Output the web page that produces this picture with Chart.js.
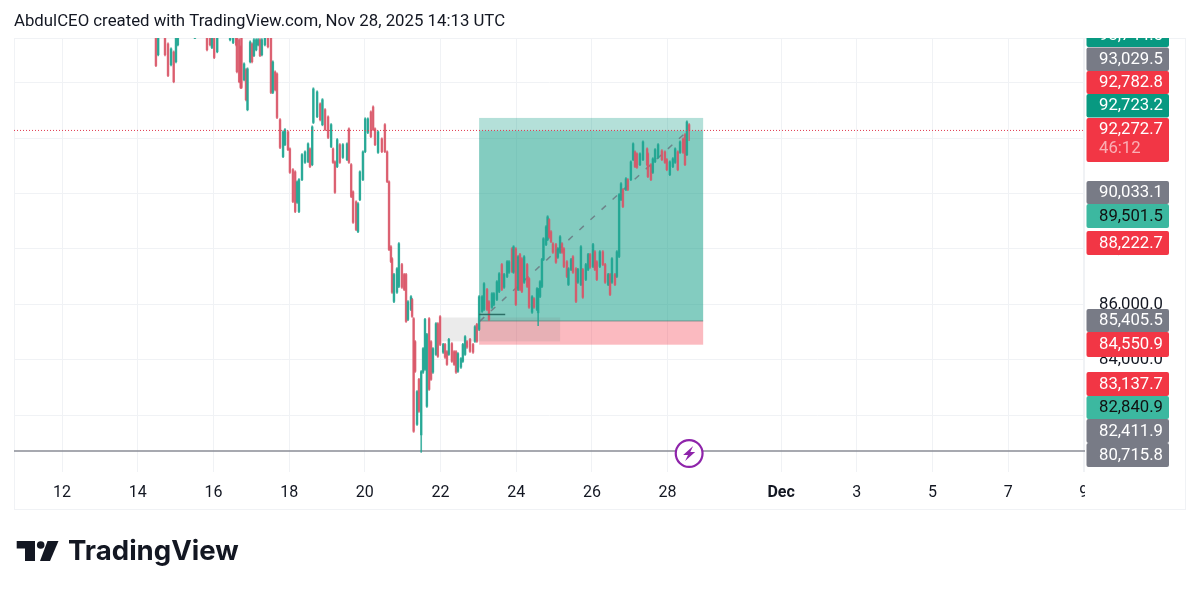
<!DOCTYPE html>
<html><head><meta charset="utf-8">
<script src="https://cdn.jsdelivr.net/npm/chart.js@4"></script>
<style>html,body{margin:0;padding:0;background:#fff}canvas{display:block}</style>
</head><body><canvas id="c" width="1200" height="594"></canvas>
<script>
const days=[14.48,14.54,14.72,14.80,14.88,14.95,15.01,15.06,15.51,15.83,
15.91,15.96,16.02,16.10,16.44,16.52,16.60,16.62,16.68,16.72,
16.74,16.81,16.86,16.90,16.97,17.02,17.07,17.13,17.18,17.23,
17.28,17.36,17.44,17.52,17.57,17.63,17.68,17.76,17.84,17.89,
17.97,18.02,18.10,18.16,18.21,18.26,18.34,18.42,18.50,18.55,
18.61,18.64,18.74,18.82,18.88,18.95,19.03,19.11,19.16,19.21,
19.27,19.34,19.42,19.53,19.58,19.64,19.69,19.77,19.82,19.87,
19.95,20.01,20.08,20.16,20.22,20.27,20.35,20.45,20.53,20.59,
20.64,20.69,20.72,20.77,20.85,20.90,20.98,21.04,21.09,21.14,
21.22,21.25,21.29,21.33,21.38,21.43,21.49,21.54,21.59,21.64,
21.70,21.75,21.80,21.88,21.93,21.99,22.07,22.12,22.17,22.22,
22.30,22.36,22.41,22.46,22.54,22.59,22.65,22.70,22.78,22.86,
22.91,22.96,23.02,23.10,23.15,23.23,23.28,23.36,23.41,23.49,
23.55,23.62,23.68,23.76,23.81,23.89,23.93,23.99,24.05,24.10,
24.15,24.21,24.29,24.34,24.42,24.47,24.55,24.58,24.63,24.68,
24.72,24.79,24.83,24.87,24.92,24.97,25.05,25.10,25.16,25.21,
25.26,25.34,25.38,25.45,25.50,25.58,25.63,25.71,25.76,25.84,
25.90,25.95,26.03,26.08,26.13,26.21,26.29,26.35,26.43,26.48,
26.53,26.61,26.66,26.72,26.77,26.82,26.90,26.95,27.03,27.09,
27.14,27.19,27.27,27.35,27.46,27.48,27.56,27.61,27.67,27.75,
27.85,27.93,27.98,28.06,28.14,28.20,28.27,28.33,28.41,28.46,28.51,28.57];
const highs=[95860,95860,95860,95430,95250,95140,95650,95760,95650,95860,
95860,95860,95860,95860,95860,95860,95860,95790,95580,95320,
95860,94710,94500,94530,95500,95430,95580,95580,95580,95580,
95580,95650,95760,95760,94780,94420,94350,92700,92260,92340,
92260,91650,90900,90820,90460,90540,91440,91540,91830,91650,
92440,93810,93700,93270,93420,93060,92800,92520,91650,91180,
91980,91800,91800,91830,92370,91080,90100,89740,89670,90820,
91540,92730,92730,92980,93160,92370,92260,92010,92520,91540,
90460,88120,87690,87120,87330,88230,87480,87120,87120,86140,
86320,86220,85530,84700,82900,83340,83620,84450,85500,84960,
85530,84700,84450,85350,85350,85600,84600,84600,84340,84780,
84630,84340,84340,84270,84090,84600,84880,84700,84780,84600,
85240,85320,86320,86320,86790,86580,86140,86430,86430,86860,
87150,87480,87120,87580,87580,88050,88120,88050,87760,87840,
87690,87760,87480,86970,86320,86250,86610,86580,86860,87660,
88410,88840,89200,89100,88660,88230,88200,88050,88480,88230,
88050,87580,87330,87660,87760,87330,87300,88120,87300,87480,
87840,87840,88200,87940,87580,87940,87940,87480,87120,87120,
87690,87120,87940,90000,90390,90180,90570,90540,91180,91830,
91540,91470,91470,91900,91650,91470,91080,91290,91620,91800,
91580,91540,91260,91180,91290,91650,91540,91900,92010,92160,92620,92520];
const lows=[94570,94960,94960,94210,94600,93990,94710,95320,95580,95140,
95320,95220,94860,95070,95500,95400,95320,94350,93990,93780,
93780,94060,93340,92980,94710,94710,94930,95140,95320,94930,
94960,95320,95250,93600,93600,93700,92700,91620,91290,91720,
91540,90720,89670,89310,89640,89310,90460,91080,91110,90930,
91000,92520,92730,92620,92440,92260,91980,91650,91080,90000,
90930,91080,91260,91180,91080,89850,88920,88660,88590,89740,
90460,91470,92160,92010,92260,91720,91440,91470,91470,90390,
87940,87510,86400,86070,86400,86610,86580,86500,85350,85420,
85780,85530,81390,83550,81640,82110,80670,83520,83620,82290,
82900,83260,83520,84160,84090,84520,84240,84060,83800,84160,
83910,83800,83520,83550,83700,83910,84160,84420,84270,84240,
84630,84630,85060,85710,85780,85780,85420,85860,85960,86140,
86430,86500,86580,86970,87120,87150,87120,85960,86500,86500,
86430,86760,86610,85860,85680,85860,85780,85240,86250,86610,
87580,88120,88300,88380,88230,87840,87480,87660,87840,87840,
87330,86970,86680,87220,87120,86070,86760,86680,86220,86860,
87220,87300,87330,87220,86860,87330,87400,86760,86680,86320,
86760,86680,86970,87690,89740,89490,90100,90100,90460,91180,
90930,90900,91000,91180,91000,90570,90460,90720,91110,91260,
91180,91080,90820,90640,90930,91080,90820,91440,91440,91000,91360,91900];
const opens=[95820,95000,95820,95390,94640,95100,94750,95360,95590,95820,
95820,95260,95820,95110,95540,95440,95820,95750,95540,95280,
95820,94100,94460,93020,94750,95390,94970,95180,95360,95540,
95000,95360,95720,95720,93640,94380,94310,92660,91330,91760,
92220,91610,90860,90780,89680,89350,90500,91120,91150,91610,
91040,92560,92770,93230,92480,93020,92760,91690,91610,91140,
90970,91760,91300,91220,92330,91040,90060,89700,88630,89780,
90500,91510,92200,92940,93120,92330,91480,91970,92480,91500,
90420,88080,87650,86110,86440,86650,87440,87080,87080,85460,
85820,86180,85490,84660,81680,83300,81300,83560,83660,82330,
85490,84660,83560,84200,85310,85560,84280,84560,84300,84200,
84590,84300,84300,83590,83740,83950,84200,84660,84740,84560,
84670,85280,85100,85750,85820,86540,86100,85900,86000,86180,
86470,87440,86620,87010,87160,88010,87160,88010,86540,87800,
87650,86800,87440,86930,85720,86210,85820,85700,86290,86650,
87620,88160,88340,89060,88620,88190,88160,87700,87880,88190,
88010,87540,86720,87260,87720,87290,86800,86720,87260,86900,
87260,87800,87370,87900,87540,87370,87900,87440,86720,87080,
86800,87080,87010,87730,89780,90140,90140,90500,90500,91220,
91500,91430,91040,91220,91610,91430,91040,90760,91150,91300,
91540,91500,91220,90680,90970,91120,91500,91480,91970,92120,91400,92480];
const closes=[94610,95820,95000,94250,95210,94030,95610,95720,95640,95180,
95360,95820,94900,95820,95820,95820,95360,94390,94030,93820,
93820,94670,93380,94490,95460,94750,95540,95540,95540,94970,
95540,95610,95290,93640,94740,93740,92740,91660,92220,92300,
91580,90760,89710,89350,90420,90500,91400,91500,91790,90970,
92400,93770,93660,92660,93380,92300,92020,92480,91120,90040,
91940,91120,91760,91790,91120,89890,88960,88700,89630,90780,
91500,92690,92690,92050,92300,91760,92220,91510,91510,90430,
87980,87550,86440,87080,87290,88190,86620,86540,85390,86100,
86280,85570,81430,83590,82860,82150,83580,84410,85460,84920,
82940,83300,84410,85310,84130,84560,84560,84100,83840,84740,
83950,83840,83560,84230,84050,84560,84840,84460,84310,84280,
85200,84670,86280,86280,86750,85820,85460,86390,86390,86820,
87110,86540,87080,87540,87540,87190,88080,86000,87720,86540,
86470,87720,86650,85900,86280,85900,86570,86540,86820,87620,
88370,88800,89160,88420,88270,87880,87520,88010,88440,87880,
87370,87010,87290,87620,87160,86110,87260,88080,86260,87440,
87800,87340,88160,87260,86900,87900,87440,86800,87080,86360,
87650,86720,87900,89960,90350,89530,90530,90140,91140,91790,
90970,90940,91430,91860,91040,90610,90500,91250,91580,91760,
91220,91120,90860,91140,91250,91610,90860,91860,91480,91040,92580,92272.7];

const xTickDays=[12,14,16,18,20,22,24,26,28,31,33,35,37,39];
const xTickLabels=["12","14","16","18","20","22","24","26","28","Dec","3","5","7","9"];
const yTickValues=[82000,84000,86000,88000,90000,92000,94000];
const levelPrice=[80715.8,80715.8];
const lastPrice=[92272.7,92272.7];
const spanDays=[10.73,39.03];
const tradePathDays=[23.04,28.54];
const tradePathPrices=[85400,92272.7];
const markerDays=[23.02,23.71];
const markerPrices=[85640,85640];
const entryLineDays=[23.02,28.94];
const entryLinePrices=[85405.5,85405.5];
const longBoxDays=[23.02,28.94];
const targetPrice=92723.2, entryPrice=85405.5, stopPrice=84550.9, currentPrice=92272.7;
const rangeBoxDays=[22.03,25.16];
const rangeBoxPrices=[85530,84670];
const flashDay=28.57, flashPrice=80630;
const headerText="AbdulCEO created with TradingView.com, Nov 28, 2025 14:13 UTC";
const brandText="TradingView";
const tagTexts=["93,744.5","93,029.5","92,782.8","92,723.2","92,272.7","90,033.1","89,501.5","88,222.7","85,405.5","84,550.9","83,137.7","82,840.9","82,411.9","80,715.8"];
const countdown="46:12";

const UP='rgba(30,165,145,0.82)', DOWN='rgba(216,84,102,0.78)';
const GRID='#f0f2f5';
const FONT='Roboto, sans-serif';
const candleColors=closes.map((c,i)=>c>=opens[i]?UP:DOWN);

// tag layout: top, bottom, fill, text colour
const GREY='#787b86',RED='#f23645',GREEN='#089981',TEAL='#3cb8a0',W='#ffffff',K='#111111';
const tagLayout=[[24,47,GREEN,W],[47.5,71,GREY,W],[71,94,RED,W],[94,117.5,GREEN,W],[118,162,RED,W],
[181,204,GREY,W],[204,228,TEAL,K],[231,255,RED,W],[309,332,GREY,W],[332,357,RED,W],
[372,396,RED,W],[396,419,TEAL,K],[419,443,GREY,W],[443,467,GREY,W]];

const decor={id:'decor',
beforeDraw(ch){const g=ch.ctx;g.save();g.fillStyle='#fff';g.fillRect(0,0,1200,594);
  g.strokeStyle='#f0f2f5';g.lineWidth=1;g.strokeRect(14.5,38.5,1171,471);
  g.beginPath();g.moveTo(1084.5,38);g.lineTo(1084.5,472);g.stroke();
  g.restore();},
beforeDatasetsDraw(ch){const g=ch.ctx,x=ch.scales.x,y=ch.scales.y;g.save();
  const a=ch.chartArea;g.beginPath();g.rect(a.left,a.top,a.right-a.left,a.bottom-a.top);g.clip();
  const L=x.getPixelForValue(longBoxDays[0]),R=x.getPixelForValue(longBoxDays[1]);
  const yT=y.getPixelForValue(targetPrice),yE=y.getPixelForValue(entryPrice),yS=y.getPixelForValue(stopPrice),yC=y.getPixelForValue(currentPrice);
  g.fillStyle='rgba(8,153,129,0.30)';g.fillRect(L,yT,R-L,yC-yT);
  g.fillStyle='rgba(8,153,129,0.50)';g.fillRect(L,yC,R-L,yE-yC);
  g.fillStyle='rgba(242,54,69,0.34)';g.fillRect(L,yE,R-L,yS-yE);
  const gl=x.getPixelForValue(rangeBoxDays[0]),gr=x.getPixelForValue(rangeBoxDays[1]);
  const gt=y.getPixelForValue(rangeBoxPrices[0]),gb=y.getPixelForValue(rangeBoxPrices[1]);
  g.fillStyle='rgba(120,120,120,0.15)';g.fillRect(gl,gt,gr-gl,gb-gt);
  g.restore();},
afterDraw(ch){const g=ch.ctx,x=ch.scales.x,y=ch.scales.y;g.save();
  // clipped "9" at axis edge
  g.fillStyle='#fff';g.fillRect(1085,476,12,32);
  // flash marker
  const fx=x.getPixelForValue(flashDay),fy=y.getPixelForValue(flashPrice);
  g.beginPath();g.arc(fx,fy,13.4,0,Math.PI*2);g.fillStyle='#fff';g.fill();g.lineWidth=2.2;g.strokeStyle='#8e24aa';g.stroke();
  g.beginPath();g.moveTo(fx+4,fy-7.5);g.lineTo(fx-6,fy+1.6);g.lineTo(fx-1.2,fy+1.6);g.lineTo(fx-4,fy+7.5);g.lineTo(fx+6,fy-1.6);g.lineTo(fx+1.2,fy-1.6);g.closePath();g.fillStyle='#8e24aa';g.fill();
  // price tags
  g.save();g.beginPath();g.rect(1085,38,110,450);g.clip();
  g.textBaseline='middle';g.textAlign='left';g.font='16.7px '+FONT;
  tagTexts.forEach((t,i)=>{const [a,b,f,c]=tagLayout[i];
    g.fillStyle=f;g.beginPath();g.roundRect(1086.5,a,82.5,b-a,2);g.fill();
    g.fillStyle=c;
    if(i===4){g.fillText(t,1099,129.5);g.fillStyle='rgba(255,255,255,0.6)';g.fillText(countdown,1099,149);}
    else g.fillText(t,1099,(a+b)/2+0.5);
  });
  g.restore();
  // header
  g.fillStyle='#131722';g.textAlign='left';g.textBaseline='middle';g.font='16.8px '+FONT;
  g.fillText(headerText,14,22);
  // brand
  g.fillStyle='#131722';
  g.beginPath();g.moveTo(16.7,541);g.lineTo(35,541);g.lineTo(35,561);g.lineTo(25,561);g.lineTo(25,548.5);g.lineTo(16.7,548.5);g.closePath();g.fill();
  g.beginPath();g.arc(40.7,545,3.8,0,Math.PI*2);g.fill();
  g.beginPath();g.moveTo(47.5,541);g.lineTo(58.5,541);g.lineTo(50,561);g.lineTo(40,561);g.closePath();g.fill();
  g.font='700 27.6px Inter, sans-serif';g.fillText(brandText,68,552);
  g.restore();}
};

new Chart(document.getElementById('c'),{
 type:'bar',
 data:{datasets:[
  {type:'bar',label:'wick',order:5,grouped:false,barThickness:1,data:days.map((d,i)=>({x:d,y:[lows[i],highs[i]]})),backgroundColor:candleColors},
  {type:'bar',label:'body',order:4,grouped:false,barThickness:1.8,data:days.map((d,i)=>({x:d,y:[opens[i],closes[i]]})),backgroundColor:candleColors,minBarLength:1},
  {type:'line',label:'level',order:8,data:spanDays.map((d,i)=>({x:d,y:levelPrice[i]})),borderColor:'#8a8c96',borderWidth:1.5,pointRadius:0},
  {type:'line',label:'last',order:3,data:spanDays.map((d,i)=>({x:d,y:lastPrice[i]})),borderColor:'#e0394e',borderWidth:1,borderDash:[1,2],pointRadius:0},
  {type:'line',label:'path',order:7,data:tradePathDays.map((d,i)=>({x:d,y:tradePathPrices[i]})),borderColor:'rgba(105,115,125,0.8)',borderWidth:1.5,borderDash:[6,9],pointRadius:0},
  {type:'line',label:'entry edge',order:7,data:entryLineDays.map((d,i)=>({x:d,y:entryLinePrices[i]})),borderColor:'rgba(90,125,120,0.7)',borderWidth:1,pointRadius:0},
  {type:'line',label:'marker',order:2,data:markerDays.map((d,i)=>({x:d,y:markerPrices[i]})),borderColor:'#2c6f66',borderWidth:1.5,pointRadius:0}
 ]},
 options:{responsive:false,animation:false,devicePixelRatio:1,
  layout:{padding:{left:14,top:38,right:14,bottom:84}},
  plugins:{legend:{display:false},tooltip:{enabled:false},title:{display:false}},
  scales:{
   x:{type:'linear',offset:false,min:spanDays[0],max:spanDays[1],
    grid:{offset:false,color:GRID,lineWidth:1,drawTicks:false},border:{display:false},
    afterBuildTicks(s){s.ticks=xTickDays.map(v=>({value:v}));},
    afterFit(s){s.height=38;},
    ticks:{autoSkip:false,maxRotation:0,padding:11.5,color:'#131722',
      font:c=>({family:FONT,size:16,weight:c.tick&&c.tick.value===31?'700':'400'}),
      callback:v=>{const i=xTickDays.indexOf(v);return i<0?'':xTickLabels[i];}}},
   y:{type:'linear',position:'right',min:79963,max:95604,
    grid:{color:GRID,lineWidth:1,drawTicks:false},border:{display:false},
    afterBuildTicks(s){s.ticks=yTickValues.map(v=>({value:v}));},
    afterFit(s){s.width=101;},
    ticks:{padding:14,crossAlign:'near',color:'#131722',font:{family:FONT,size:16.7},
      callback:v=>v.toLocaleString('en-US',{minimumFractionDigits:1,maximumFractionDigits:1})}}
  }},
 plugins:[decor]
});
</script></body></html>
